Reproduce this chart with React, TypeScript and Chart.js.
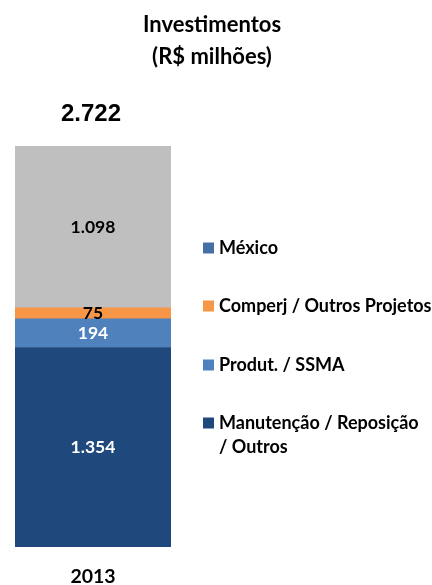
import React, { useEffect, useRef } from "react";
import { Chart, registerables } from "chart.js";

Chart.register(...registerables);

const categories = ["2013"];
const seriesNames = ["Manutenção / Reposição / Outros", "Produt. / SSMA", "Comperj / Outros Projetos", "México"];
const manutencao = [1354];
const produt = [194];
const comperj = [75];
const mexico = [1098];
const totals = [2722];
const titleLines = ["Investimentos", "(R$ milhões)"];
const legendOrder = ["México", "Comperj / Outros Projetos", "Produt. / SSMA", "Manutenção / Reposição / Outros"];

const barColors = ["#1F497D", "#4F81BD", "#F79646", "#BFBFBF"];
const labelColors = ["#FFFFFF", "#FFFFFF", "#000000", "#000000"];
const legendColors: Record<string, string> = {
  "México": "#4470A8",
  "Comperj / Outros Projetos": "#F79646",
  "Produt. / SSMA": "#4F81BD",
  "Manutenção / Reposição / Outros": "#1F497D",
};

const fmt = (v: number) => {
  const s = Math.round(v).toString();
  return s.replace(/\B(?=(\d{3})+(?!\d))/g, ".");
};

const FONT = "Lato, 'Open Sans', sans-serif";

const overlayPlugin = {
  id: "overlay",
  afterDraw(chart: any) {
    const ctx = chart.ctx as CanvasRenderingContext2D;
    ctx.save();
    // Title
    ctx.fillStyle = "#000";
    ctx.textAlign = "center";
    ctx.textBaseline = "middle";
    ctx.font = `bold 22px ${FONT}`;
    ctx.fillText(titleLines[0], 212, 25);
    ctx.fillText(titleLines[1], 212, 57);

    // Data labels
    chart.data.datasets.forEach((ds: any, i: number) => {
      const meta = chart.getDatasetMeta(i);
      meta.data.forEach((bar: any, j: number) => {
        const v = ds.data[j];
        const y = (bar.y + bar.base) / 2;
        ctx.fillStyle = labelColors[i];
        ctx.font = `bold 17.5px ${FONT}`;
        ctx.textAlign = "center";
        ctx.textBaseline = "middle";
        ctx.fillText(fmt(v), bar.x, y);
      });
    });

    // Totals
    totals.forEach((total, j) => {
      const x = chart.scales.x.getPixelForValue(j);
      const y = chart.scales.y.getPixelForValue(total);
      ctx.fillStyle = "#000";
      ctx.font = `bold 24px 'Liberation Sans', Arial, sans-serif`;
      ctx.textAlign = "center";
      ctx.textBaseline = "middle";
      ctx.fillText(fmt(total), x - 2, y - 32);
    });

    // Legend
    const lx = 203;
    const rows = [248, 306, 365, 423];
    ctx.font = `bold 18px ${FONT}`;
    ctx.textAlign = "left";
    ctx.textBaseline = "middle";
    legendOrder.forEach((name, k) => {
      const cy = rows[k];
      ctx.fillStyle = legendColors[name];
      ctx.fillRect(lx, cy - 5.5, 11, 11);
      ctx.fillStyle = "#000";
      if (name === "Manutenção / Reposição / Outros") {
        ctx.fillText("Manutenção / Reposição", lx + 16, cy);
        ctx.fillText("/ Outros", lx + 16, cy + 24);
      } else {
        ctx.fillText(name, lx + 16, cy);
      }
    });
    ctx.restore();
  },
};

export default function App() {
  const ref = useRef<HTMLCanvasElement>(null);
  useEffect(() => {
    if (!ref.current) return;
    const series = [manutencao, produt, comperj, mexico];
    const chart = new Chart(ref.current, {
      type: "bar",
      data: {
        labels: categories,
        datasets: series.map((d, i) => ({
          label: seriesNames[i],
          data: d,
          backgroundColor: barColors[i],
          borderWidth: 0,
          barPercentage: 1,
          categoryPercentage: 1,
        })),
      },
      options: {
        responsive: false,
        animation: false,
        layout: { padding: { top: 146, left: 15, right: 261, bottom: 0 } },
        plugins: {
          legend: { display: false },
          title: { display: false },
          tooltip: { enabled: false },
        },
        scales: {
          x: {
            stacked: true,
            grid: { display: false, drawTicks: false },
            border: { display: false },
            afterFit: (scale: any) => {
              scale.height = 38;
            },
            ticks: {
              padding: 18,
              color: "#000",
              maxRotation: 0,
              font: { family: FONT, size: 19.5, weight: "bold" },
            },
          },
          y: {
            stacked: true,
            display: false,
            min: 0,
            max: totals[0],
          },
        },
      },
      plugins: [overlayPlugin],
    });
    return () => chart.destroy();
  }, []);
  return (
    <div style={{ position: "absolute", left: 0, top: 0, width: 432, height: 585, background: "#fff" }}>
      <canvas ref={ref} width={432} height={585} style={{ display: "block" }} />
    </div>
  );
}
